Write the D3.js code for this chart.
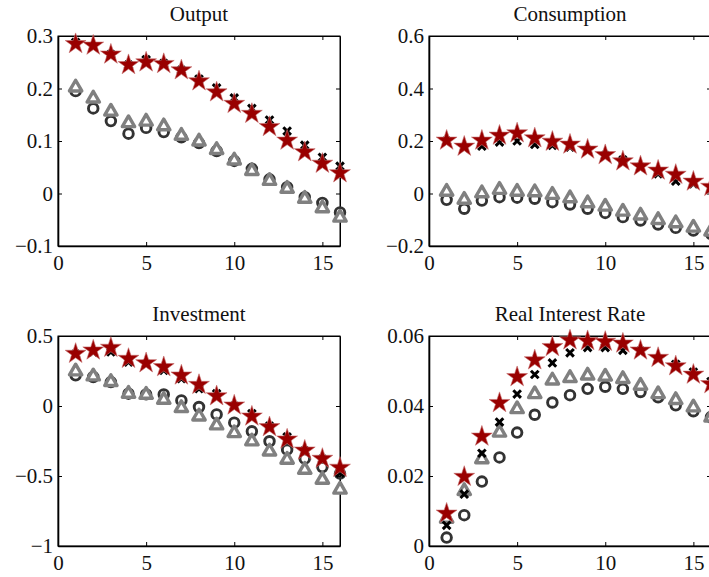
<!DOCTYPE html>
<html>
<head>
<meta charset="utf-8">
<script src="https://cdn.jsdelivr.net/npm/d3@7"></script>
<style>
  body { margin: 0; background: #fff; overflow: hidden; }
  svg { display: block; }
  .tick text { font-family: 'Liberation Serif', 'Times New Roman', serif; font-size: 21px; fill: #111; }
  .title { font-family: 'Liberation Serif', 'Times New Roman', serif; font-size: 21px; fill: #111; }
  .axis path, .axis line { stroke: #000; }
</style>
</head>
<body>
<div id="chart"></div>
<script>
// Horizon 1..16
const periods = d3.range(1, 17);

// Output
const outputCircle = [0.195, 0.162, 0.138, 0.114, 0.125, 0.117, 0.107, 0.096, 0.081, 0.062, 0.047, 0.027, 0.012, -0.007, -0.018, -0.036];
const outputTriangle = [0.204, 0.183, 0.158, 0.136, 0.139, 0.130, 0.112, 0.101, 0.085, 0.065, 0.045, 0.026, 0.011, -0.008, -0.026, -0.044];
const outputCross = [0.288, 0.280, 0.265, 0.245, 0.255, 0.248, 0.235, 0.218, 0.201, 0.182, 0.162, 0.140, 0.119, 0.092, 0.069, 0.052];
const outputStar = [0.285, 0.282, 0.265, 0.245, 0.250, 0.247, 0.235, 0.214, 0.193, 0.171, 0.152, 0.127, 0.101, 0.079, 0.057, 0.039];

// Consumption
const consCircle = [-0.024, -0.058, -0.027, -0.014, -0.016, -0.020, -0.033, -0.042, -0.058, -0.074, -0.090, -0.103, -0.118, -0.131, -0.141, -0.154];
const consTriangle = [0.011, -0.020, 0.005, 0.018, 0.011, 0.009, -0.001, -0.014, -0.033, -0.046, -0.065, -0.080, -0.097, -0.109, -0.126, -0.141];
const consCross = [0.200, 0.175, 0.180, 0.196, 0.200, 0.187, 0.183, 0.177, 0.164, 0.145, 0.128, 0.100, 0.075, 0.047, 0.037, 0.020];
const consStar = [0.202, 0.179, 0.202, 0.221, 0.230, 0.211, 0.198, 0.187, 0.168, 0.147, 0.123, 0.104, 0.088, 0.072, 0.046, 0.026];

// Investment
const invCircle = [0.219, 0.207, 0.171, 0.088, 0.083, 0.083, 0.040, -0.007, -0.060, -0.119, -0.181, -0.252, -0.312, -0.376, -0.436, -0.483];
const invTriangle = [0.255, 0.219, 0.179, 0.095, 0.088, 0.052, -0.007, -0.067, -0.131, -0.186, -0.245, -0.317, -0.376, -0.448, -0.519, -0.590];
const invCross = [0.370, 0.385, 0.386, 0.314, 0.300, 0.255, 0.195, 0.124, 0.088, 0.000, -0.055, -0.143, -0.221, -0.320, -0.380, -0.479];
const invStar = [0.374, 0.398, 0.417, 0.338, 0.307, 0.279, 0.219, 0.152, 0.071, 0.005, -0.074, -0.150, -0.238, -0.317, -0.376, -0.440];

// Real interest rate
const rateCircle = [0.0024, 0.0088, 0.0184, 0.0253, 0.0324, 0.0375, 0.0410, 0.0431, 0.0449, 0.0455, 0.0449, 0.0440, 0.0425, 0.0402, 0.0385, 0.0368];
const rateTriangle = [0.0081, 0.0160, 0.0251, 0.0327, 0.0394, 0.0437, 0.0476, 0.0483, 0.0490, 0.0487, 0.0480, 0.0461, 0.0437, 0.0420, 0.0399, 0.0370];
const rateCross = [0.0059, 0.0148, 0.0265, 0.0354, 0.0434, 0.0490, 0.0523, 0.0552, 0.0567, 0.0567, 0.0559, 0.0557, 0.0535, 0.0519, 0.0497, 0.0470];
const rateStar = [0.0093, 0.0198, 0.0313, 0.0409, 0.0483, 0.0531, 0.0569, 0.0588, 0.0586, 0.0584, 0.0579, 0.0559, 0.0538, 0.0514, 0.0490, 0.0463];

const xTicks = [0, 5, 10, 15];

const panels = [
  { title: 'Output', col: 0, row: 0, yDomain: [-0.1, 0.3], yTicks: [-0.1, 0, 0.1, 0.2, 0.3],
    series: [outputCircle, outputTriangle, outputCross, outputStar] },
  { title: 'Consumption', col: 1, row: 0, yDomain: [-0.2, 0.6], yTicks: [-0.2, 0, 0.2, 0.4, 0.6],
    series: [consCircle, consTriangle, consCross, consStar] },
  { title: 'Investment', col: 0, row: 1, yDomain: [-1, 0.5], yTicks: [-1, -0.5, 0, 0.5],
    series: [invCircle, invTriangle, invCross, invStar] },
  { title: 'Real Interest Rate', col: 1, row: 1, yDomain: [0, 0.06], yTicks: [0, 0.02, 0.04, 0.06],
    series: [rateCircle, rateTriangle, rateCross, rateStar] },
];

const W = 709, H = 577;
const plotW = 282, plotH = 210;
const colX = [58, 429];
const rowY = [36, 336];

const svg = d3.select('#chart')
  .append('svg')
  .attr('width', W)
  .attr('height', H);

// matlab-style minus sign
const fmt = d => (d < 0 ? '\u2212' : '') + String(Math.abs(d));

const circlePath = d3.symbol().type(d3.symbolCircle).size(72)();
const trianglePath = d3.symbol().type(d3.symbolTriangle).size(66)();
const starPath = d3.symbol().type(d3.symbolStar).size(135)();
const crossPath = 'M-3.8,-3.8L3.8,3.8M-3.8,3.8L3.8,-3.8';

panels.forEach((p) => {
  const x = d3.scaleLinear().domain([0, 16]).range([0, plotW]);
  const y = d3.scaleLinear().domain(p.yDomain).range([plotH, 0]);

  const g = svg.append('g')
    .attr('transform', `translate(${colX[p.col]}, ${rowY[p.row]})`);

  // box
  g.append('rect')
    .attr('width', plotW)
    .attr('height', plotH)
    .attr('fill', 'none')
    .attr('stroke', '#000')
    .attr('stroke-width', 1);

  // axes with inward ticks
  g.append('g')
    .attr('class', 'axis x')
    .attr('transform', `translate(0, ${plotH})`)
    .call(d3.axisBottom(x).tickValues(xTicks).tickFormat(fmt)
      .tickSizeInner(-4).tickSizeOuter(0).tickPadding(9))
    .call(s => s.select('.domain').attr('stroke-width', 1.6));

  g.append('g')
    .attr('class', 'axis y')
    .call(d3.axisLeft(y).tickValues(p.yTicks).tickFormat(fmt)
      .tickSizeInner(-4).tickSizeOuter(0).tickPadding(5))
    .call(s => s.select('.domain').attr('stroke-width', 1.6));

  // mirrored ticks on top and right
  g.append('g')
    .attr('class', 'axis')
    .call(d3.axisTop(x).tickValues(xTicks).tickFormat('')
      .tickSizeInner(-4).tickSizeOuter(0));

  g.append('g')
    .attr('class', 'axis')
    .attr('transform', `translate(${plotW}, 0)`)
    .call(d3.axisRight(y).tickValues(p.yTicks).tickFormat('')
      .tickSizeInner(-4).tickSizeOuter(0));

  // title
  g.append('text')
    .attr('class', 'title')
    .attr('x', plotW / 2)
    .attr('y', -15)
    .attr('text-anchor', 'middle')
    .text(p.title);

  const pts = arr => arr.map((v, i) => ({ t: periods[i], v }));

  // dark circles
  g.selectAll('path.circ')
    .data(pts(p.series[0]))
    .enter()
    .append('path')
    .attr('class', 'circ')
    .attr('d', circlePath)
    .attr('transform', d => `translate(${x(d.t)}, ${y(d.v)})`)
    .attr('fill', 'none')
    .attr('stroke', '#333')
    .attr('stroke-width', 2.9);

  // grey triangles
  g.selectAll('path.tri')
    .data(pts(p.series[1]))
    .enter()
    .append('path')
    .attr('class', 'tri')
    .attr('d', trianglePath)
    .attr('transform', d => `translate(${x(d.t)}, ${y(d.v) + 1})`)
    .attr('fill', '#fff')
    .attr('stroke', '#808080')
    .attr('stroke-width', 3.4)
    .attr('stroke-linejoin', 'round');

  // black crosses
  g.selectAll('path.crs')
    .data(pts(p.series[2]))
    .enter()
    .append('path')
    .attr('class', 'crs')
    .attr('d', crossPath)
    .attr('transform', d => `translate(${x(d.t)}, ${y(d.v)})`)
    .attr('fill', 'none')
    .attr('stroke', '#000')
    .attr('stroke-width', 3);

  // red stars
  g.selectAll('path.star')
    .data(pts(p.series[3]))
    .enter()
    .append('path')
    .attr('class', 'star')
    .attr('d', starPath)
    .attr('transform', d => `translate(${x(d.t)}, ${y(d.v)})`)
    .attr('fill', '#990000')
    .attr('stroke', '#c87070')
    .attr('stroke-width', 0.6);
});
</script>
</body>
</html>
